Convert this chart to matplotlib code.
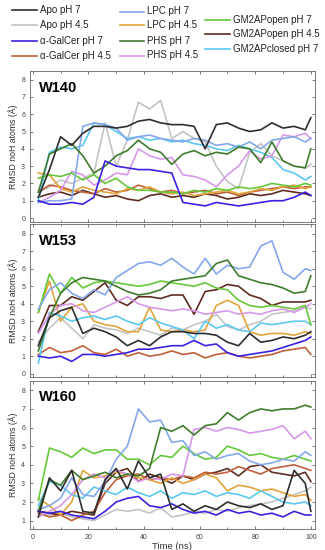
import matplotlib
matplotlib.use("Agg")
import matplotlib.pyplot as plt
from matplotlib.lines import Line2D
from matplotlib.ticker import MultipleLocator

plt.rcParams['font.family'] = ['Liberation Sans', 'DejaVu Sans']

# ---------------- data ----------------
time_ns = [2, 6, 10, 14, 18, 22, 26, 30, 34, 38, 42, 46, 50, 54, 58, 62,
           66, 70, 74, 78, 82, 86, 90, 94, 98, 100]

series_labels = ["Apo pH 7", "Apo pH 4.5", "α-GalCer pH 7", "α-GalCer pH 4.5",
                 "LPC pH 7", "LPC pH 4.5", "PHS pH 7", "PHS pH 4.5",
                 "GM2APopen pH 7", "GM2APopen pH 4.5", "GM2APclosed pH 7"]

panel_names = ["W140", "W153", "W160"]

# W140
w140_apo7   = [1.2, 2.8, 4.7, 4.2, 4.9, 5.3, 5.3, 5.2, 5.3, 5.6, 5.7, 5.5, 5.4, 5.4, 5.3, 4.0, 5.4, 5.5, 5.2, 5.0, 5.1, 5.5, 5.2, 5.3, 5.1, 5.8]
w140_apo45  = [1.5, 1.8, 2.2, 2.0, 2.3, 2.6, 5.5, 3.0, 4.5, 6.7, 6.3, 6.8, 4.6, 5.0, 4.6, 4.4, 3.0, 2.1, 1.7, 3.8, 4.3, 3.6, 3.3, 3.0, 2.9, 3.1]
w140_ag7    = [1.0, 0.8, 0.8, 0.9, 0.8, 1.2, 3.3, 3.0, 2.9, 2.8, 2.8, 2.7, 2.6, 0.9, 0.8, 0.7, 0.9, 0.8, 0.7, 0.8, 0.9, 1.0, 1.0, 1.2, 1.5, 1.3]
w140_ag45   = [1.5, 1.9, 1.8, 1.6, 1.5, 1.4, 1.7, 1.5, 1.6, 1.9, 1.7, 1.5, 1.6, 1.4, 1.5, 1.6, 1.4, 1.5, 1.3, 1.5, 1.6, 1.7, 1.8, 1.7, 1.8, 1.8]
w140_lpc7   = [0.9, 1.0, 1.0, 1.1, 5.3, 5.5, 5.4, 5.2, 4.5, 4.7, 4.8, 4.6, 4.5, 4.4, 4.6, 4.5, 4.2, 4.3, 4.1, 4.4, 4.0, 4.5, 4.6, 4.7, 4.4, 4.6]
w140_lpc45  = [2.6, 2.5, 1.7, 1.5, 1.8, 1.6, 1.5, 1.4, 1.7, 1.6, 1.8, 1.5, 1.4, 1.5, 1.3, 1.4, 1.5, 1.6, 1.4, 1.5, 1.7, 1.6, 1.8, 1.9, 1.7, 1.8]
w140_phs7   = [1.5, 3.7, 4.0, 4.3, 3.6, 2.6, 3.0, 3.6, 3.9, 4.5, 4.0, 3.8, 3.1, 3.7, 3.9, 3.6, 3.8, 3.7, 4.1, 4.0, 3.2, 4.4, 3.3, 3.0, 2.9, 4.0]
w140_phs45  = [0.9, 1.2, 1.6, 2.7, 2.5, 1.9, 2.2, 2.6, 2.5, 4.0, 3.6, 3.4, 3.5, 2.5, 2.4, 2.2, 1.8, 2.5, 3.0, 3.9, 3.4, 3.6, 4.8, 4.7, 4.9, 4.6]
w140_gm7    = [2.3, 2.5, 2.4, 2.6, 2.2, 2.5, 2.0, 2.3, 1.8, 1.6, 1.6, 1.5, 1.5, 1.4, 1.6, 1.5, 1.7, 1.6, 1.8, 1.7, 1.8, 2.0, 1.9, 1.8, 2.0, 1.9]
w140_gm45   = [1.2, 1.4, 1.5, 1.3, 1.6, 1.4, 1.2, 1.3, 1.1, 1.0, 1.3, 1.4, 1.2, 1.3, 1.2, 1.4, 1.3, 1.1, 1.2, 1.4, 1.3, 1.4, 1.6, 1.5, 1.4, 1.3]
w140_gmc7   = [1.0, 3.8, 4.1, 4.0, 4.2, 5.5, 5.4, 5.0, 4.6, 4.7, 4.5, 4.6, 4.4, 4.5, 4.3, 4.2, 4.0, 3.9, 4.2, 4.0, 3.8, 3.5, 2.8, 2.6, 2.2, 2.4]

# W153
w153_apo7   = [1.6, 3.2, 3.6, 3.8, 2.3, 2.6, 2.4, 2.1, 1.6, 1.9, 1.6, 2.1, 2.4, 2.4, 2.3, 2.3, 2.2, 1.8, 1.6, 2.3, 1.8, 1.9, 2.1, 2.0, 2.2, 2.4]
w153_apo45  = [1.8, 2.6, 3.2, 2.6, 2.0, 2.8, 2.6, 2.5, 2.3, 2.6, 2.4, 2.2, 2.6, 2.5, 2.8, 3.0, 3.4, 2.7, 2.5, 2.8, 3.0, 3.4, 3.5, 3.6, 3.8, 3.7]
w153_ag7    = [1.0, 0.9, 1.0, 0.7, 1.1, 1.1, 1.0, 1.1, 1.2, 1.4, 1.4, 1.5, 1.6, 1.6, 1.9, 1.6, 1.7, 1.2, 1.0, 1.1, 1.2, 1.3, 1.5, 1.7, 1.9, 2.1]
w153_ag45   = [1.1, 1.5, 1.2, 1.3, 1.6, 1.2, 1.1, 1.4, 1.0, 1.2, 1.0, 1.1, 1.3, 1.1, 1.2, 0.9, 1.1, 1.2, 1.0, 0.9, 1.0, 1.1, 1.3, 1.4, 1.5, 1.1]
w153_lpc7   = [3.7, 4.8, 5.2, 4.6, 4.3, 4.8, 4.5, 5.5, 5.9, 6.3, 6.4, 6.2, 6.6, 6.1, 5.7, 6.6, 5.7, 6.2, 6.0, 6.1, 7.3, 7.6, 5.8, 5.4, 6.0, 5.9]
w153_lpc45  = [3.5, 5.3, 3.0, 3.8, 4.0, 3.0, 2.8, 2.7, 2.4, 2.4, 3.8, 2.5, 2.4, 2.5, 2.4, 2.5, 3.9, 4.2, 3.9, 2.4, 2.2, 2.3, 2.3, 2.2, 2.4, 2.3]
w153_phs7   = [1.3, 3.2, 4.6, 5.2, 5.5, 5.4, 5.3, 5.0, 4.7, 4.5, 4.6, 4.8, 5.3, 5.4, 5.5, 5.6, 6.3, 6.5, 5.6, 5.4, 5.2, 5.1, 4.9, 4.6, 4.7, 5.6]
w153_phs45  = [2.3, 3.4, 3.9, 4.0, 3.6, 3.5, 3.8, 4.1, 4.4, 4.0, 3.8, 3.7, 3.6, 3.7, 3.6, 3.4, 3.5, 3.6, 3.4, 3.5, 3.4, 3.6, 3.7, 3.5, 3.8, 4.0]
w153_gm7    = [3.5, 5.7, 4.6, 5.5, 4.9, 5.2, 5.3, 5.2, 5.1, 5.0, 5.1, 5.3, 5.2, 5.1, 5.0, 5.2, 4.9, 4.8, 4.2, 3.9, 3.8, 3.9, 3.8, 3.7, 3.9, 2.8]
w153_gm45   = [2.4, 3.9, 3.9, 4.4, 4.2, 4.7, 5.2, 4.2, 3.9, 4.4, 4.4, 4.3, 4.5, 4.5, 3.4, 4.7, 4.8, 5.1, 5.0, 4.5, 4.3, 3.9, 4.1, 4.1, 4.1, 4.2]
w153_gmc7   = [0.6, 3.5, 3.3, 3.0, 3.2, 3.3, 3.1, 3.3, 3.0, 2.8, 3.2, 2.9, 2.7, 2.5, 2.0, 3.0, 2.6, 2.8, 2.5, 2.4, 2.9, 2.8, 2.9, 3.0, 3.0, 2.8]

# W160
w160_apo7   = [1.2, 3.3, 2.6, 3.7, 1.5, 1.4, 3.2, 3.8, 2.7, 4.2, 3.3, 3.5, 1.6, 1.9, 1.5, 1.8, 1.6, 2.0, 1.8, 1.7, 1.9, 1.6, 1.8, 3.7, 3.0, 1.5]
w160_apo45  = [1.5, 1.3, 1.4, 1.2, 1.1, 1.0, 1.3, 1.6, 1.5, 1.6, 1.4, 1.7, 1.2, 1.3, 1.5, 1.4, 1.6, 1.5, 1.7, 1.8, 1.9, 2.0, 2.2, 2.4, 2.6, 2.8]
w160_ag7    = [1.5, 1.4, 1.5, 1.3, 1.2, 1.1, 1.5, 2.0, 2.2, 2.3, 1.8, 1.7, 1.9, 1.6, 1.4, 1.5, 1.3, 1.6, 1.4, 1.5, 1.3, 1.4, 1.2, 1.5, 1.3, 1.3]
w160_ag45   = [1.4, 1.2, 1.3, 1.0, 1.3, 1.5, 2.5, 3.2, 3.4, 3.5, 3.2, 3.3, 3.2, 3.4, 3.3, 3.6, 3.5, 3.6, 3.9, 3.7, 3.5, 3.8, 3.9, 4.0, 3.8, 3.7]
w160_lpc7   = [1.6, 1.8, 2.2, 3.3, 2.4, 2.3, 3.1, 4.3, 5.0, 7.0, 6.3, 6.4, 5.2, 5.3, 4.5, 4.7, 4.3, 4.5, 4.6, 4.2, 4.0, 4.1, 4.3, 4.2, 4.7, 4.5]
w160_lpc45  = [2.2, 1.8, 1.3, 2.0, 3.7, 3.3, 3.4, 3.6, 3.5, 3.3, 3.2, 3.0, 3.3, 3.0, 3.2, 3.5, 3.3, 2.6, 2.9, 2.8, 2.6, 2.7, 2.5, 2.3, 2.4, 2.1]
w160_phs7   = [1.5, 3.2, 2.9, 3.7, 3.2, 3.4, 3.6, 3.3, 3.5, 3.4, 3.8, 6.0, 5.8, 6.1, 5.6, 6.1, 6.2, 6.8, 6.4, 6.8, 7.0, 6.9, 7.0, 7.0, 7.2, 7.1]
w160_phs45  = [1.2, 1.5, 1.8, 2.4, 3.2, 3.5, 3.3, 3.7, 3.5, 3.1, 3.3, 3.2, 3.5, 3.4, 5.9, 6.0, 5.8, 6.0, 5.9, 5.7, 5.8, 5.9, 6.1, 5.4, 5.8, 5.4]
w160_gm7    = [2.1, 4.9, 4.7, 4.4, 4.9, 4.6, 4.8, 4.8, 4.3, 4.3, 4.0, 4.5, 4.4, 5.0, 4.6, 4.3, 4.4, 5.0, 4.8, 4.5, 4.6, 4.4, 4.3, 4.5, 4.3, 4.2]
w160_gm45   = [1.5, 1.4, 1.3, 1.5, 1.4, 1.3, 3.0, 3.6, 3.8, 3.1, 3.5, 3.3, 3.0, 3.4, 3.2, 3.5, 3.6, 3.8, 3.4, 3.9, 4.0, 3.6, 3.5, 3.4, 3.6, 3.1]
w160_gmc7   = [1.8, 3.1, 2.9, 2.4, 2.2, 2.8, 2.6, 2.4, 2.8, 2.5, 2.3, 2.6, 2.2, 2.5, 2.4, 2.6, 2.3, 2.5, 2.4, 2.2, 2.6, 2.3, 2.0, 1.9, 2.0, 1.8]

panel_data = [
    [w140_apo7, w140_apo45, w140_ag7, w140_ag45, w140_lpc7, w140_lpc45,
     w140_phs7, w140_phs45, w140_gm7, w140_gm45, w140_gmc7],
    [w153_apo7, w153_apo45, w153_ag7, w153_ag45, w153_lpc7, w153_lpc45,
     w153_phs7, w153_phs45, w153_gm7, w153_gm45, w153_gmc7],
    [w160_apo7, w160_apo45, w160_ag7, w160_ag45, w160_lpc7, w160_lpc45,
     w160_phs7, w160_phs45, w160_gm7, w160_gm45, w160_gmc7],
]

# ---------------- style ----------------
colors = ['#2e2e2e', '#c4c4c4', '#3a22e0', '#c0603a', '#86a8ea', '#e2a43c',
          '#3f7d2c', '#d898ea', '#66c83a', '#5e2c20', '#5cc8f0']
draw_order = [1, 9, 3, 5, 10, 7, 8, 4, 6, 2, 0]

W, H = 325, 550
fig = plt.figure(figsize=(W / 100, H / 100), dpi=100)

# axes boxes in pixels: (left, top, right, bottom)
boxes = [(30, 71, 315, 222), (30, 224, 315, 377), (30, 381, 315, 529)]
ylims = [(-0.23, 8.5), (-0.19, 8.56), (0.55, 8.5)]

for p, (box, ylim) in enumerate(zip(boxes, ylims)):
    l, t, r, b = box
    ax = fig.add_axes([l / W, 1 - b / H, (r - l) / W, (b - t) / H])
    for i in draw_order:
        ax.plot(time_ns, panel_data[p][i], color=colors[i], lw=1.2,
                solid_joinstyle='round')
    ax.set_xlim(-1, 101.5)
    ax.set_ylim(*ylim)
    ax.xaxis.set_major_locator(MultipleLocator(20))
    ax.xaxis.set_minor_locator(MultipleLocator(10))
    ax.yaxis.set_major_locator(MultipleLocator(1))
    ax.tick_params(which='both', direction='in', top=True, right=True,
                   labelsize=5, colors='#444444', length=2.5, width=0.5)
    ax.tick_params(which='minor', length=1.5)
    for s in ax.spines.values():
        s.set_linewidth(0.6)
        s.set_color('#666666')
    ax.set_ylabel("RMSD noH atoms (Å)", fontsize=6.3, color='#333333', labelpad=2.5)
    ax.text(0.03, 0.89, panel_names[p], transform=ax.transAxes,
            fontsize=10.5, fontweight='bold', va='center', ha='left')
    if p < 2:
        ax.tick_params(labelbottom=False)
    else:
        ax.set_xlabel("Time (ns)", fontsize=6.8, color='#333333', labelpad=1)

# ---------------- legend (three columns) ----------------
legend_cols = [
    (12, 37, 40, [(0, 10), (1, 25), (2, 40.5), (3, 56)]),
    (120, 144, 147, [(4, 11.5), (5, 25), (6, 40.5), (7, 55.5)]),
    (205, 230, 233, [(8, 20), (9, 34), (10, 49)]),
]
for x0, x1, xt, entries in legend_cols:
    for idx, yp in entries:
        fig.add_artist(Line2D([x0 / W, x1 / W], [1 - yp / H, 1 - yp / H],
                              transform=fig.transFigure, color=colors[idx], lw=1.2))
        fig.text(xt / W, 1 - yp / H, series_labels[idx], fontsize=7,
                 va='center', ha='left', color='#222222')

fig.savefig("out.png", dpi=100)
